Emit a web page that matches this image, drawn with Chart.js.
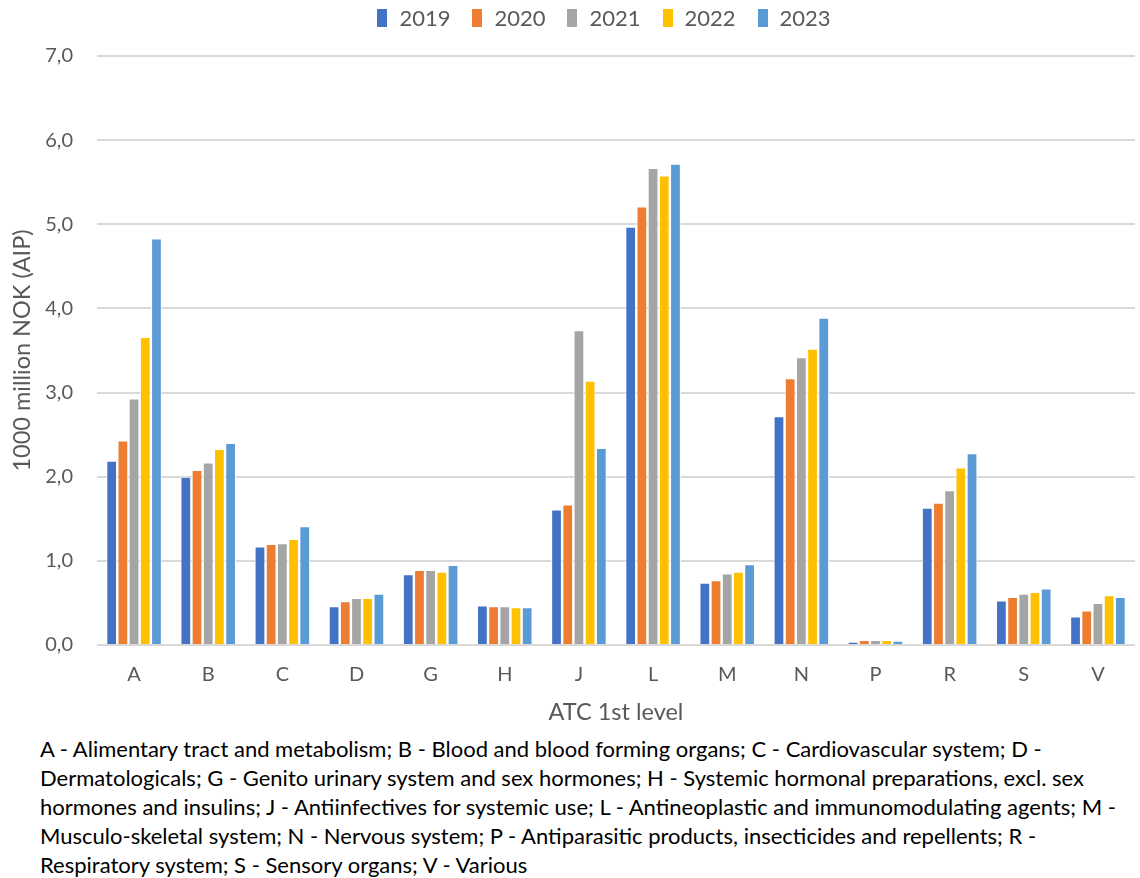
<!DOCTYPE html>
<html>
<head>
<meta charset="utf-8">
<script src="https://cdn.jsdelivr.net/npm/chart.js@4/dist/chart.umd.min.js"></script>
<style>
  body { margin: 0; background: #fff; width: 1140px; height: 878px; overflow: hidden; font-family: Lato, "Open Sans", sans-serif; }
  #wrap { position: absolute; left: 0; top: 0; width: 1140px; height: 730px; }
  #legend {
    position: absolute; left: 0; top: 6px; width: 1140px; padding-left: 68px; box-sizing: border-box;
    display: flex; justify-content: center; font-size: 22px; color: #595959; line-height: 24px;
  }
  #legend .item { display: flex; align-items: center; margin: 0 11px; }
  #legend .box { width: 10px; height: 18px; margin-right: 12px; }
  #note {
    position: absolute; left: 40px; top: 734px;
    font-size: 22px; line-height: 29px; color: #000; white-space: nowrap;
  }
</style>
</head>
<body>
<div id="wrap"><canvas id="chart"></canvas></div>
<div id="legend"></div>
<div id="note">
A - Alimentary tract and metabolism; B - Blood and blood forming organs; C - Cardiovascular system; D -<br>
Dermatologicals; G - Genito urinary system and sex hormones; H - Systemic hormonal preparations, excl. sex<br>
hormones and insulins; J - Antiinfectives for systemic use; L - Antineoplastic and immunomodulating agents; M -<br>
Musculo-skeletal system; N - Nervous system; P - Antiparasitic products, insecticides and repellents; R -<br>
Respiratory system; S - Sensory organs; V - Various
</div>
<script>
// categories (ATC 1st level)
const categories = ['A', 'B', 'C', 'D', 'G', 'H', 'J', 'L', 'M', 'N', 'P', 'R', 'S', 'V'];
const years = ['2019', '2020', '2021', '2022', '2023'];

// 1000 million NOK (AIP)
const v2019 = [2.19, 2.00, 1.17, 0.46, 0.84, 0.47, 1.61, 4.97, 0.74, 2.72, 0.04, 1.63, 0.53, 0.34];
const v2020 = [2.43, 2.08, 1.20, 0.52, 0.89, 0.46, 1.67, 5.21, 0.77, 3.17, 0.06, 1.69, 0.57, 0.41];
const v2021 = [2.93, 2.17, 1.21, 0.56, 0.89, 0.46, 3.74, 5.67, 0.85, 3.42, 0.06, 1.84, 0.61, 0.50];
const v2022 = [3.66, 2.33, 1.26, 0.56, 0.87, 0.45, 3.14, 5.58, 0.87, 3.52, 0.06, 2.11, 0.63, 0.59];
const v2023 = [4.83, 2.40, 1.41, 0.61, 0.95, 0.45, 2.34, 5.72, 0.96, 3.89, 0.05, 2.28, 0.67, 0.57];

const colors = ['#4472C4', '#ED7D31', '#A5A5A5', '#FFC000', '#5B9BD5'];
const series = [v2019, v2020, v2021, v2022, v2023];

const textColor = '#595959';
const font = 'Lato, "Open Sans", sans-serif';

// html legend
const legendEl = document.getElementById('legend');
years.forEach((y, i) => {
    legendEl.innerHTML += `<div class="item"><span class="box" style="background:${colors[i]}"></span>${y}</div>`;
});

new Chart(document.getElementById('chart'), {
    type: 'bar',
    data: {
        labels: categories,
        datasets: series.map((vals, i) => ({
            label: years[i],
            data: vals,
            backgroundColor: colors[i],
            borderColor: '#ffffff',
            borderWidth: 1,
            categoryPercentage: 0.755,
            barPercentage: 0.96
        }))
    },
    options: {
        responsive: true,
        maintainAspectRatio: false,
        animation: false,
        layout: { padding: { left: 0, right: 5, top: 56, bottom: 0 } },
        plugins: {
            legend: { display: false },
            tooltip: { enabled: false }
        },
        scales: {
            x: {
                grid: { display: false, drawTicks: false },
                border: { display: false },
                ticks: { color: textColor, font: { family: font, size: 20 }, padding: 18 },
                title: {
                    display: true, text: 'ATC 1st level', color: textColor,
                    font: { family: font, size: 23.5 }, padding: { top: 4, bottom: 3 }
                },
                afterFit: s => { s.height = 85; }
            },
            y: {
                min: 0, max: 7,
                grid: { color: '#d9d9d9', lineWidth: 2, drawTicks: false },
                border: { display: false },
                ticks: {
                    stepSize: 1, color: textColor, padding: 24,
                    font: { family: font, size: 20 },
                    callback: v => v.toFixed(1).replace('.', ',')
                },
                title: {
                    display: true, text: '1000 million NOK (AIP)', color: textColor,
                    font: { family: font, size: 23.5 }, padding: { top: 8, bottom: 2 }
                },
                afterFit: s => { s.width = 97; }
            }
        }
    }
});
</script>
</body>
</html>
